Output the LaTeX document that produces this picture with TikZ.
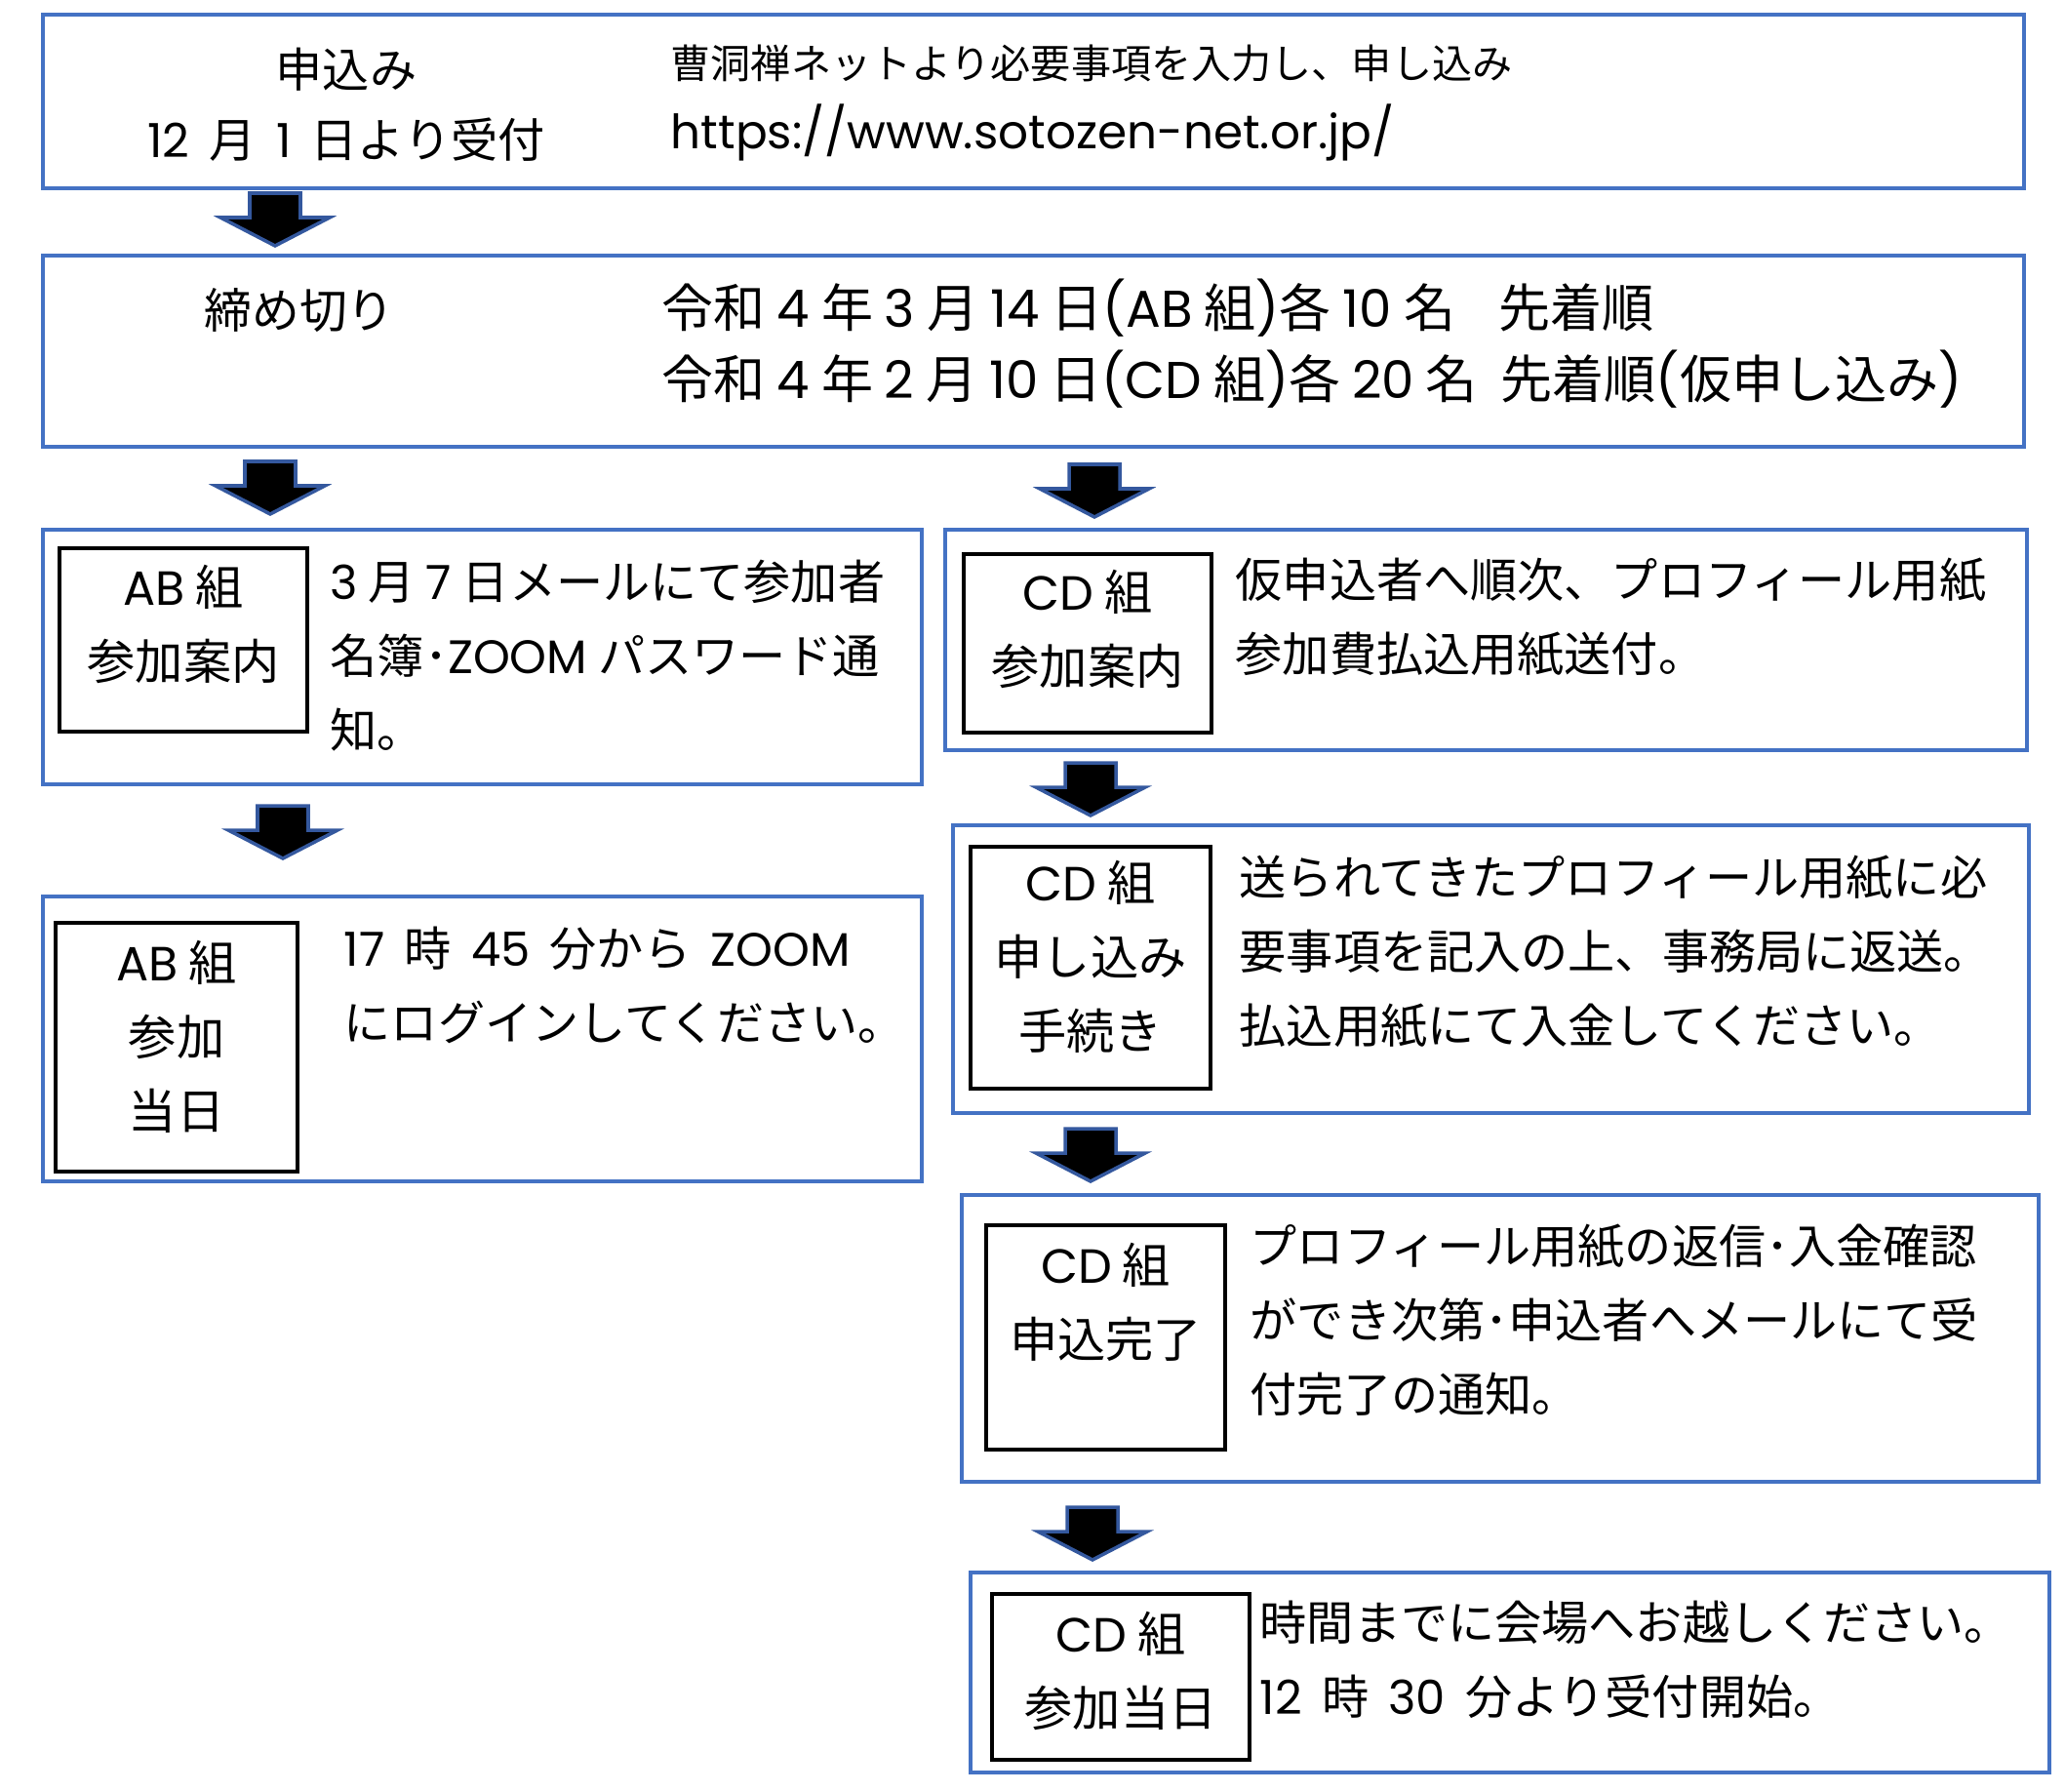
\documentclass[tikz,border=0pt]{standalone}
\usepackage{fontspec}
\setmainfont{Noto Sans CJK JP}
\newfontfamily\latinfont[Numbers=Monospaced]{Poppins}
\newcommand\lat[1]{{\latinfont #1}}
\newcommand\gap{\hspace{0.42em}}
\definecolor{boxblue}{RGB}{68,114,196}
\definecolor{arrowblue}{RGB}{52,88,158}

\tikzset{
  down arrow/.pic={
    \draw[draw=arrowblue, fill=black, line width=1pt]
      (-0.26,0) -- (0.26,0) -- (0.26,-0.25) -- (0.56,-0.25)
      -- (0,-0.54) -- (-0.56,-0.25) -- (-0.26,-0.25) -- cycle;
  }
}

\begin{document}
\begin{tikzpicture}[
        my box/.style={
          draw=boxblue,
          line width=1.1pt,
          inner sep=0pt,
          anchor=north west,
        },
        my tag/.style={
          draw=black,
          line width=1.2pt,
          inner sep=0pt,
          anchor=north west,
          align=center,
          font=\fontsize{14}{21.6}\selectfont,
        },
        my text/.style={
          anchor=west,
          align=left,
          inner sep=0pt,
          font=\fontsize{13.7}{21.6}\selectfont,
        }]
      \useasboundingbox (0,0) rectangle (21.17,-18.36);
      % top row
      \node[my box, minimum width=20.31cm, minimum height=1.78cm] (apply) at (0.42,-0.13) {};
      \node[align=center, inner sep=0pt, font=\fontsize{13.7}{20.5}\selectfont] (applylabel) at (3.55,-1.075) {申込み\\\lat{12}\gap 月\gap\lat{1}\gap 日より受付};
      \node[my text, font=\fontsize{11.7}{20.5}\selectfont] (applytext) at (6.87,-1.06) {曹洞禅ネットより必要事項を入力し、申し込み\\{\fontsize{13.8}{20.5}\selectfont\lat{https://www.sotozen-net.or.jp/}}};
      \pic at (2.82,-1.98) {down arrow};
      \node[my box, minimum width=20.31cm, minimum height=1.96cm] (deadline) at (0.42,-2.60) {};
      \node[inner sep=0pt, font=\fontsize{13.9}{20.5}\selectfont] (deadlinelabel) at (3.07,-3.18) {締め切り};
      \node[my text, font=\fontsize{15.1}{20.8}\selectfont] (deadlinetext) at (6.78,-3.525) {令和 \lat{4} 年 \lat{3} 月 \lat{14} 日\lat{(AB} 組\lat{)}各 \lat{10} 名\gap\gap 先着順\\令和 \lat{4} 年 \lat{2} 月 \lat{10} 日\lat{(CD} 組\lat{)}各 \lat{20} 名\ \ 先着順\lat{(}仮申し込み\lat{)}};
      \pic at (2.77,-4.73) {down arrow};
      \pic at (11.22,-4.76) {down arrow};
      % AB group
      \node[my box, minimum width=9.01cm, minimum height=2.61cm] (abguide) at (0.42,-5.41) {};
      \node[my tag, minimum width=2.54cm, minimum height=1.88cm, text depth=0.36cm] (abguidetag) at (0.59,-5.60) {\lat{AB} 組\\参加案内};
      \node[my text] (abguidetext) at (3.38,-6.725) {\lat{3} 月 \lat{7} 日メールにて参加者\\名簿･\lat{ZOOM} パスワード通\\知。};
      \pic at (2.90,-8.26) {down arrow};
      \node[my box, minimum width=9.01cm, minimum height=2.92cm] (abday) at (0.42,-9.17) {};
      \node[my tag, minimum width=2.48cm, minimum height=2.55cm, text depth=0.26cm] (abdaytag) at (0.55,-9.44) {\lat{AB} 組\\参加\\当日};
      \node[my text] (abdaytext) at (3.52,-10.095) {\lat{17}\gap 時\gap\lat{45}\gap 分から\gap\lat{ZOOM}\\にログインしてください。};
      % CD group
      \node[my box, minimum width=11.09cm, minimum height=2.26cm] (cdguide) at (9.67,-5.41) {};
      \node[my tag, minimum width=2.54cm, minimum height=1.83cm, text depth=0.34cm] (cdguidetag) at (9.86,-5.66) {\lat{CD} 組\\参加案内};
      \node[my text] (cdguidetext) at (12.66,-6.33) {仮申込者へ順次、プロフィール用紙\\参加費払込用紙送付。};
      \pic at (11.18,-7.82) {down arrow};
      \node[my box, minimum width=11.03cm, minimum height=2.95cm] (cdentry) at (9.75,-8.44) {};
      \node[my tag, minimum width=2.46cm, minimum height=2.48cm, text depth=0.26cm] (cdentrytag) at (9.93,-8.66) {\lat{CD} 組\\申し込み\\手続き};
      \node[my text] (cdentrytext) at (12.70,-9.76) {送られてきたプロフィール用紙に必\\要事項を記入の上、事務局に返送。\\払込用紙にて入金してください。};
      \pic at (11.18,-11.57) {down arrow};
      \node[my box, minimum width=11.04cm, minimum height=2.94cm] (cddone) at (9.84,-12.23) {};
      \node[my tag, minimum width=2.45cm, minimum height=2.30cm] (cddonetag) at (10.09,-12.54) {\lat{CD} 組\\申込完了\\\mbox{}};
      \node[my text] (cddonetext) at (12.81,-13.535) {プロフィール用紙の返信･入金確認\\ができ次第･申込者へメールにて受\\付完了の通知。};
      \pic at (11.20,-15.45) {down arrow};
      \node[my box, minimum width=11.06cm, minimum height=2.05cm] (cdday) at (9.93,-16.10) {};
      \node[my tag, minimum width=2.64cm, minimum height=1.70cm, text depth=0.16cm] (cddaytag) at (10.15,-16.32) {\lat{CD} 組\\参加当日};
      \node[my text] (cddaytext) at (12.91,-17.01) {時間までに会場へお越しください。\\\lat{12}\gap 時\gap\lat{30}\gap 分より受付開始。};
    \end{tikzpicture}
\end{document}
